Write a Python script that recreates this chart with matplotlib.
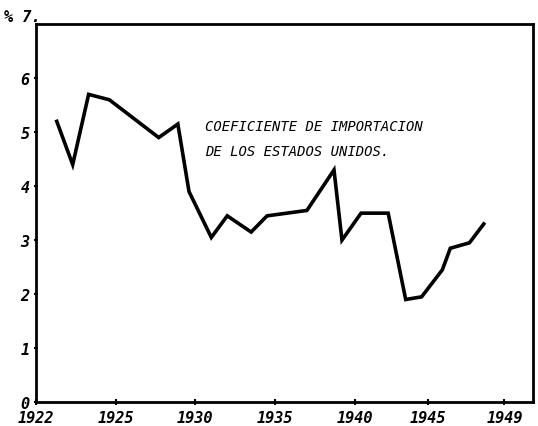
import matplotlib.pyplot as plt

# valores (coeficiente de importacion, %)
anios = [1921.3, 1922.3, 1923.3, 1924.6, 1927.7, 1928.9, 1929.6, 1931.0, 1932.0,
         1933.5, 1934.5, 1937.0, 1938.7, 1939.2, 1940.4, 1942.1, 1943.2, 1944.2,
         1945.5, 1946.0, 1947.2, 1948.1]
coef = [5.2, 4.4, 5.7, 5.6, 4.9, 5.15, 3.9, 3.05, 3.45, 3.15, 3.45, 3.55, 4.3,
        3.0, 3.5, 3.5, 1.9, 1.95, 2.45, 2.85, 2.95, 3.3]

xtick_pos = [1920, 1925, 1930, 1935, 1940, 1944.6, 1949.4]
xtick_lab = ['1922', '1925', '1930', '1935', '1940', '1945', '1949']
ytick_pos = [0, 1, 2, 3, 4, 5, 6]
titulo = "COEFICIENTE DE IMPORTACION\nDE LOS ESTADOS UNIDOS."

fig = plt.figure(figsize=(5.38, 4.27), dpi=100)
ax = fig.add_axes([0.067, 0.056, 0.924, 0.885])

ax.plot(anios, coef, color='black', lw=2.6, solid_joinstyle='miter')

ax.set_xlim(1920, 1951.2)
ax.set_ylim(0, 7)

fnt = dict(style='italic', fontsize=11, weight='bold', family='DejaVu Sans Mono')
ax.set_xticks(xtick_pos)
ax.set_xticklabels(xtick_lab, **fnt)
ax.set_yticks(ytick_pos)
ax.set_yticklabels([str(v) for v in ytick_pos], **fnt)
ax.tick_params(axis='both', direction='inout', length=5, width=1.5, pad=3)
ax.tick_params(axis='y', length=3)

for s in ax.spines.values():
    s.set_linewidth(2)

ax.text(-0.065, 1.0, "% 7.", transform=ax.transAxes, ha='left', va='bottom', **fnt)

ax.text(1930.6, 5.25, titulo, ha='left', va='top', linespacing=2.0,
        family='DejaVu Sans Mono', style='italic', fontsize=10)

fig.savefig('out.png', dpi=100)
